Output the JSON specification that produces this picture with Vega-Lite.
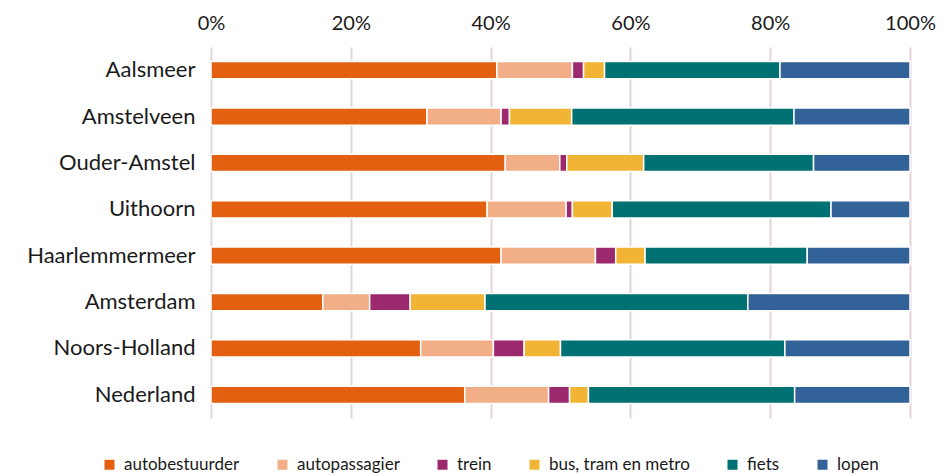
{
  "$schema": "https://vega.github.io/schema/vega-lite/v6.json",
  "width": 699,
  "height": 371,
  "autosize": "none",
  "padding": {"left": 211, "top": 47, "right": 41, "bottom": 58},
  "background": "white",
  "data": {
    "values": [
      {"gemeente": "Aalsmeer", "modus": "autobestuurder", "k": 1, "waarde": 40.9},
      {"gemeente": "Aalsmeer", "modus": "autopassagier", "k": 2, "waarde": 10.8},
      {"gemeente": "Aalsmeer", "modus": "trein", "k": 3, "waarde": 1.6},
      {"gemeente": "Aalsmeer", "modus": "bus, tram en metro", "k": 4, "waarde": 3.0},
      {"gemeente": "Aalsmeer", "modus": "fiets", "k": 5, "waarde": 25.1},
      {"gemeente": "Aalsmeer", "modus": "lopen", "k": 6, "waarde": 18.6},
      {"gemeente": "Amstelveen", "modus": "autobestuurder", "k": 1, "waarde": 30.9},
      {"gemeente": "Amstelveen", "modus": "autopassagier", "k": 2, "waarde": 10.6},
      {"gemeente": "Amstelveen", "modus": "trein", "k": 3, "waarde": 1.2},
      {"gemeente": "Amstelveen", "modus": "bus, tram en metro", "k": 4, "waarde": 8.9},
      {"gemeente": "Amstelveen", "modus": "fiets", "k": 5, "waarde": 31.8},
      {"gemeente": "Amstelveen", "modus": "lopen", "k": 6, "waarde": 16.6},
      {"gemeente": "Ouder-Amstel", "modus": "autobestuurder", "k": 1, "waarde": 42.1},
      {"gemeente": "Ouder-Amstel", "modus": "autopassagier", "k": 2, "waarde": 7.8},
      {"gemeente": "Ouder-Amstel", "modus": "trein", "k": 3, "waarde": 1.0},
      {"gemeente": "Ouder-Amstel", "modus": "bus, tram en metro", "k": 4, "waarde": 11.0},
      {"gemeente": "Ouder-Amstel", "modus": "fiets", "k": 5, "waarde": 24.3},
      {"gemeente": "Ouder-Amstel", "modus": "lopen", "k": 6, "waarde": 13.8},
      {"gemeente": "Uithoorn", "modus": "autobestuurder", "k": 1, "waarde": 39.5},
      {"gemeente": "Uithoorn", "modus": "autopassagier", "k": 2, "waarde": 11.3},
      {"gemeente": "Uithoorn", "modus": "trein", "k": 3, "waarde": 0.9},
      {"gemeente": "Uithoorn", "modus": "bus, tram en metro", "k": 4, "waarde": 5.7},
      {"gemeente": "Uithoorn", "modus": "fiets", "k": 5, "waarde": 31.3},
      {"gemeente": "Uithoorn", "modus": "lopen", "k": 6, "waarde": 11.3},
      {"gemeente": "Haarlemmermeer", "modus": "autobestuurder", "k": 1, "waarde": 41.5},
      {"gemeente": "Haarlemmermeer", "modus": "autopassagier", "k": 2, "waarde": 13.5},
      {"gemeente": "Haarlemmermeer", "modus": "trein", "k": 3, "waarde": 2.9},
      {"gemeente": "Haarlemmermeer", "modus": "bus, tram en metro", "k": 4, "waarde": 4.2},
      {"gemeente": "Haarlemmermeer", "modus": "fiets", "k": 5, "waarde": 23.2},
      {"gemeente": "Haarlemmermeer", "modus": "lopen", "k": 6, "waarde": 14.7},
      {"gemeente": "Amsterdam", "modus": "autobestuurder", "k": 1, "waarde": 16.0},
      {"gemeente": "Amsterdam", "modus": "autopassagier", "k": 2, "waarde": 6.7},
      {"gemeente": "Amsterdam", "modus": "trein", "k": 3, "waarde": 5.8},
      {"gemeente": "Amsterdam", "modus": "bus, tram en metro", "k": 4, "waarde": 10.7},
      {"gemeente": "Amsterdam", "modus": "fiets", "k": 5, "waarde": 37.6},
      {"gemeente": "Amsterdam", "modus": "lopen", "k": 6, "waarde": 23.2},
      {"gemeente": "Noors-Holland", "modus": "autobestuurder", "k": 1, "waarde": 30.0},
      {"gemeente": "Noors-Holland", "modus": "autopassagier", "k": 2, "waarde": 10.4},
      {"gemeente": "Noors-Holland", "modus": "trein", "k": 3, "waarde": 4.4},
      {"gemeente": "Noors-Holland", "modus": "bus, tram en metro", "k": 4, "waarde": 5.2},
      {"gemeente": "Noors-Holland", "modus": "fiets", "k": 5, "waarde": 32.1},
      {"gemeente": "Noors-Holland", "modus": "lopen", "k": 6, "waarde": 17.9},
      {"gemeente": "Nederland", "modus": "autobestuurder", "k": 1, "waarde": 36.3},
      {"gemeente": "Nederland", "modus": "autopassagier", "k": 2, "waarde": 12.0},
      {"gemeente": "Nederland", "modus": "trein", "k": 3, "waarde": 3.0},
      {"gemeente": "Nederland", "modus": "bus, tram en metro", "k": 4, "waarde": 2.7},
      {"gemeente": "Nederland", "modus": "fiets", "k": 5, "waarde": 29.5},
      {"gemeente": "Nederland", "modus": "lopen", "k": 6, "waarde": 16.5}
    ]
  },
  "mark": {"type": "bar", "stroke": "white", "strokeWidth": 1.5},
  "encoding": {
    "y": {
      "field": "gemeente",
      "type": "nominal",
      "sort": null,
      "title": null,
      "scale": {"paddingInner": 0.63, "paddingOuter": 0.315},
      "axis": {
        "domain": false,
        "ticks": false,
        "labelFont": "Lato",
        "labelFontSize": 22,
        "labelColor": "#1a1a1a",
        "labelPadding": 16,
        "labelLimit": 250
      }
    },
    "x": {
      "field": "waarde",
      "type": "quantitative",
      "stack": "normalize",
      "title": null,
      "scale": {"domain": [0, 1], "nice": false},
      "axis": {
        "orient": "top",
        "format": ".0%",
        "values": [0, 0.2, 0.4, 0.6, 0.8, 1],
        "domain": false,
        "ticks": false,
        "grid": true,
        "gridColor": "#e3d4d7",
        "gridWidth": 2,
        "labelFont": "Lato",
        "labelFontSize": 20,
        "labelColor": "#1a1a1a",
        "labelPadding": 14,
        "labelFlush": false
      }
    },
    "color": {
      "field": "modus",
      "type": "nominal",
      "sort": ["autobestuurder", "autopassagier", "trein", "bus, tram en metro", "fiets", "lopen"],
      "scale": {
        "domain": ["autobestuurder", "autopassagier", "trein", "bus, tram en metro", "fiets", "lopen"],
        "range": ["#e2600f", "#f2af87", "#9c286e", "#f1b434", "#007173", "#336298"]
      },
      "legend": {
        "title": null,
        "orient": "none",
        "direction": "horizontal",
        "legendX": -110,
        "legendY": 409,
        "symbolType": "square",
        "symbolSize": 100,
        "symbolStrokeWidth": 0,
        "labelFont": "Lato",
        "labelFontSize": 17,
        "labelColor": "#1a1a1a",
        "labelOffset": 6,
        "columnPadding": 34
      }
    },
    "order": {"field": "k", "type": "quantitative"}
  },
  "config": {"view": {"stroke": null}}
}
